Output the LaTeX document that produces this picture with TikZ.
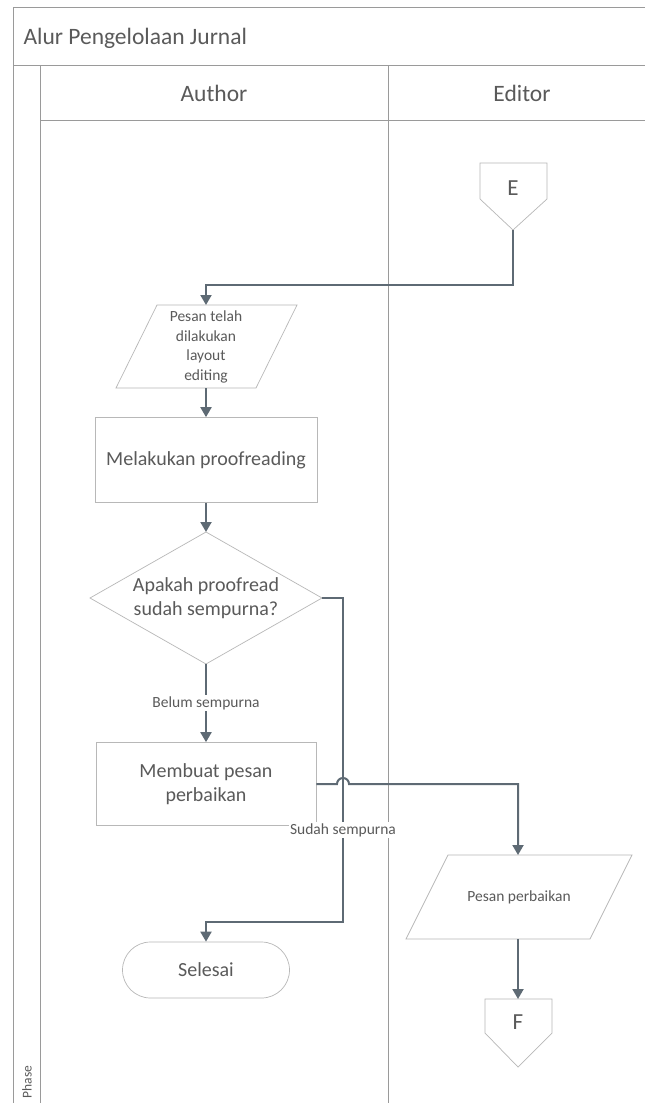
\documentclass[tikz,border=0pt]{standalone}
\usepackage{fontspec}
\setmainfont{Carlito}
\usetikzlibrary{arrows.meta}
\definecolor{txt}{HTML}{5A5A5A}
\definecolor{framec}{HTML}{9A9A9A}
\definecolor{shp}{HTML}{B8B8B8}
\definecolor{connc}{HTML}{5E6A74}
\begin{document}
\begin{tikzpicture}[x=1pt,y=-1pt,
 frameline/.style={draw=framec,line width=0.8pt},
 shapeline/.style={draw=shp,line width=0.7pt},
 conn/.style={draw=connc,line width=2pt},
 arr/.style={conn,-{Triangle[width=11pt,length=10pt]}},
 big/.style={text=txt,font=\fontsize{20}{24.5}\selectfont,align=center},
 letter/.style={text=txt,font=\fontsize{23}{28}\selectfont},
 small/.style={text=txt,font=\fontsize{15.5}{19.7}\selectfont,align=center},
 head/.style={text=txt,font=\fontsize{23.5}{28}\selectfont}]
\useasboundingbox (0,0) rectangle (645,1103);
\fill[white] (0,0) rectangle (645,1103);
% frame
\draw[frameline] (646,7) -- (13,7) -- (13,1104);
\draw[frameline] (13,65) -- (646,65);
\draw[frameline] (40,65) -- (40,1104);
\draw[frameline] (40,120) -- (646,120);
\draw[frameline] (388,65) -- (388,1104);
\node[head,anchor=base west] (title) at (20,44) {Alur Pengelolaan Jurnal};
\node[head] (author) at (214,93) {Author};
\node[head] (editor) at (522,93) {Editor};
\node[text=txt,font=\fontsize{13.5}{16}\selectfont,rotate=90] (phase) at (27,1082) {Phase};
% E connector
\draw[shapeline] (480,163) -- (547,163) -- (547,199) -- (513,230) -- (480,199) -- cycle;
\node[letter] (E) at (513,188) {E};
\coordinate (Etip) at (513,230);
% parallelogram 1
\draw[shapeline] (116,388) -- (157,305) -- (297,305) -- (256,388) -- cycle;
\node[small] (p1) at (206,347) {Pesan telah\\dilakukan\\layout\\editing};
\coordinate (p1top) at (206,305);
\coordinate (p1bot) at (206,388);
% rect 1
\node[shapeline,big,minimum width=222pt,minimum height=85pt] (r1) at (206,460) {Melakukan proofreading};
% diamond
\draw[shapeline] (90,598) -- (206,532) -- (322,598) -- (206,664) -- cycle;
\node[big] (d) at (206,598) {Apakah proofread\\sudah sempurna?};
\coordinate (dtop) at (206,532);
\coordinate (dbot) at (206,664);
\coordinate (dright) at (322,598);
% rect 2
\node[shapeline,big,minimum width=220pt,minimum height=83pt] (r2) at (206,784) {Membuat pesan\\perbaikan};
% terminator
\node[shapeline,big,minimum width=167pt,minimum height=56pt,rounded corners=28pt] (sel) at (206,970) {Selesai};
% parallelogram 2
\draw[shapeline] (406,939) -- (448,855) -- (632,855) -- (590,939) -- cycle;
\node[small] (p2) at (519,897) {Pesan perbaikan};
\coordinate (p2top) at (518,855);
\coordinate (p2bot) at (518,939);
% F connector
\draw[shapeline] (485,999) -- (552,999) -- (552,1033) -- (518,1067) -- (485,1033) -- cycle;
\node[letter] (F) at (518,1022) {F};
\coordinate (Ftop) at (518,999);
% connectors
\draw[arr] (Etip) -- (513,285) -| (p1top);
\draw[arr] (p1bot) -- (r1.north);
\draw[arr] (r1.south) -- (dtop);
\draw[arr] (dbot) -- node[small,fill=white,inner sep=1pt] (belum) {Belum sempurna} (r2.north);
\draw[arr] (dright) -- (343,598) -- (343,922) -- (206,922) -- (sel.north);
\node[small,fill=white,inner sep=1pt] (sudah) at (343,830) {Sudah sempurna};
\draw[arr] (r2.east) -- (337,784) arc[start angle=180,end angle=360,radius=6] -- (518,784) -- (p2top);
\draw[arr] (p2bot) -- (Ftop);
\end{tikzpicture}
\end{document}
